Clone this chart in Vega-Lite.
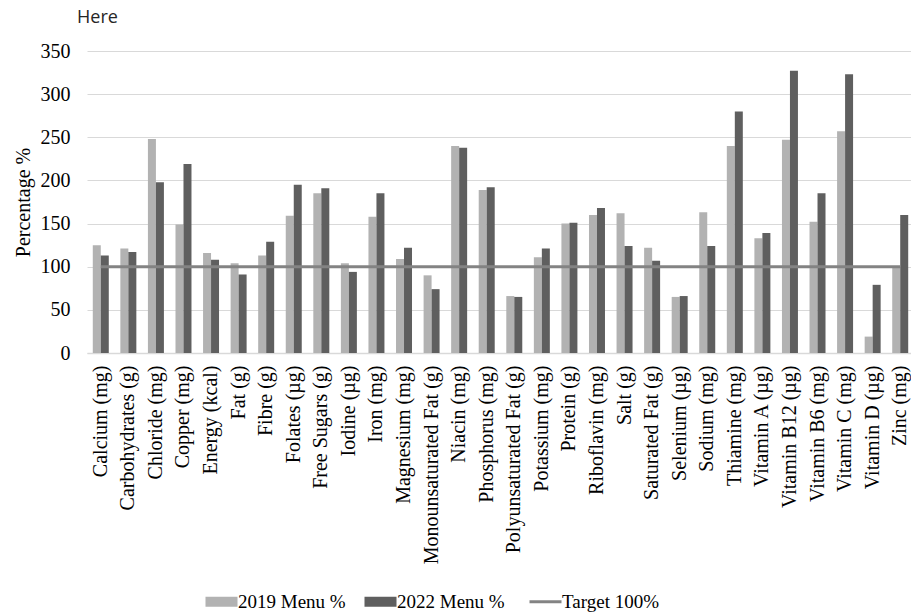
{
  "$schema": "https://vega.github.io/schema/vega-lite/v6.json",
  "autosize": {"type": "none"},
  "width": 827,
  "height": 302,
  "padding": {"left": 87, "top": 51, "right": 0, "bottom": 263},
  "background": "white",
  "title": {"text": "Here", "anchor": "start", "frame": "group", "dx": -10, "offset": 14, "font": "Open Sans", "fontSize": 18, "fontWeight": "normal", "color": "#262626"},
  "config": {
    "view": {"stroke": null},
    "font": "Liberation Serif",
    "axis": {"labelFont": "Liberation Serif", "titleFont": "Liberation Serif", "labelColor": "black", "titleColor": "black", "titleFontWeight": "normal"},
    "axisY": {"labelFont": "Times New Roman", "titleFont": "Times New Roman"},
    "axisQuantitative": {"labelFont": "Times New Roman"},
    "legend": {"labelFont": "Liberation Serif", "labelColor": "black"}
  },
  "data": {"values": [
    {"nutrient": "Calcium (mg)", "series": "2019 Menu %", "value": 125},
    {"nutrient": "Calcium (mg)", "series": "2022 Menu %", "value": 113},
    {"nutrient": "Carbohydrates (g)", "series": "2019 Menu %", "value": 121},
    {"nutrient": "Carbohydrates (g)", "series": "2022 Menu %", "value": 117},
    {"nutrient": "Chloride (mg)", "series": "2019 Menu %", "value": 248},
    {"nutrient": "Chloride (mg)", "series": "2022 Menu %", "value": 198},
    {"nutrient": "Copper (mg)", "series": "2019 Menu %", "value": 149},
    {"nutrient": "Copper (mg)", "series": "2022 Menu %", "value": 219},
    {"nutrient": "Energy (kcal)", "series": "2019 Menu %", "value": 116},
    {"nutrient": "Energy (kcal)", "series": "2022 Menu %", "value": 108},
    {"nutrient": "Fat (g)", "series": "2019 Menu %", "value": 104},
    {"nutrient": "Fat (g)", "series": "2022 Menu %", "value": 91},
    {"nutrient": "Fibre (g)", "series": "2019 Menu %", "value": 113},
    {"nutrient": "Fibre (g)", "series": "2022 Menu %", "value": 129},
    {"nutrient": "Folates (µg)", "series": "2019 Menu %", "value": 159},
    {"nutrient": "Folates (µg)", "series": "2022 Menu %", "value": 195},
    {"nutrient": "Free Sugars (g)", "series": "2019 Menu %", "value": 185},
    {"nutrient": "Free Sugars (g)", "series": "2022 Menu %", "value": 191},
    {"nutrient": "Iodine (µg)", "series": "2019 Menu %", "value": 104},
    {"nutrient": "Iodine (µg)", "series": "2022 Menu %", "value": 94},
    {"nutrient": "Iron (mg)", "series": "2019 Menu %", "value": 158},
    {"nutrient": "Iron (mg)", "series": "2022 Menu %", "value": 185},
    {"nutrient": "Magnesium (mg)", "series": "2019 Menu %", "value": 109},
    {"nutrient": "Magnesium (mg)", "series": "2022 Menu %", "value": 122},
    {"nutrient": "Monounsaturated Fat (g)", "series": "2019 Menu %", "value": 90},
    {"nutrient": "Monounsaturated Fat (g)", "series": "2022 Menu %", "value": 74},
    {"nutrient": "Niacin (mg)", "series": "2019 Menu %", "value": 240},
    {"nutrient": "Niacin (mg)", "series": "2022 Menu %", "value": 238},
    {"nutrient": "Phosphorus (mg)", "series": "2019 Menu %", "value": 189},
    {"nutrient": "Phosphorus (mg)", "series": "2022 Menu %", "value": 192},
    {"nutrient": "Polyunsaturated Fat (g)", "series": "2019 Menu %", "value": 66},
    {"nutrient": "Polyunsaturated Fat (g)", "series": "2022 Menu %", "value": 65},
    {"nutrient": "Potassium (mg)", "series": "2019 Menu %", "value": 111},
    {"nutrient": "Potassium (mg)", "series": "2022 Menu %", "value": 121},
    {"nutrient": "Protein (g)", "series": "2019 Menu %", "value": 150},
    {"nutrient": "Protein (g)", "series": "2022 Menu %", "value": 151},
    {"nutrient": "Riboflavin (mg)", "series": "2019 Menu %", "value": 160},
    {"nutrient": "Riboflavin (mg)", "series": "2022 Menu %", "value": 168},
    {"nutrient": "Salt (g)", "series": "2019 Menu %", "value": 162},
    {"nutrient": "Salt (g)", "series": "2022 Menu %", "value": 124},
    {"nutrient": "Saturated Fat (g)", "series": "2019 Menu %", "value": 122},
    {"nutrient": "Saturated Fat (g)", "series": "2022 Menu %", "value": 107},
    {"nutrient": "Selenium (µg)", "series": "2019 Menu %", "value": 65},
    {"nutrient": "Selenium (µg)", "series": "2022 Menu %", "value": 66},
    {"nutrient": "Sodium (mg)", "series": "2019 Menu %", "value": 163},
    {"nutrient": "Sodium (mg)", "series": "2022 Menu %", "value": 124},
    {"nutrient": "Thiamine (mg)", "series": "2019 Menu %", "value": 240},
    {"nutrient": "Thiamine (mg)", "series": "2022 Menu %", "value": 280},
    {"nutrient": "Vitamin A (µg)", "series": "2019 Menu %", "value": 133},
    {"nutrient": "Vitamin A (µg)", "series": "2022 Menu %", "value": 139},
    {"nutrient": "Vitamin B12 (µg)", "series": "2019 Menu %", "value": 247},
    {"nutrient": "Vitamin B12 (µg)", "series": "2022 Menu %", "value": 327},
    {"nutrient": "Vitamin B6 (mg)", "series": "2019 Menu %", "value": 152},
    {"nutrient": "Vitamin B6 (mg)", "series": "2022 Menu %", "value": 185},
    {"nutrient": "Vitamin C (mg)", "series": "2019 Menu %", "value": 257},
    {"nutrient": "Vitamin C (mg)", "series": "2022 Menu %", "value": 323},
    {"nutrient": "Vitamin D (µg)", "series": "2019 Menu %", "value": 19},
    {"nutrient": "Vitamin D (µg)", "series": "2022 Menu %", "value": 79},
    {"nutrient": "Zinc (mg)", "series": "2019 Menu %", "value": 99},
    {"nutrient": "Zinc (mg)", "series": "2022 Menu %", "value": 160}
  ]},
  "encoding": {
    "x": {"field": "nutrient", "type": "nominal", "sort": null,
      "scale": {"paddingInner": 0.42, "paddingOuter": 0.21},
      "axis": {"title": null, "labelAngle": -90, "labelFont": "Liberation Serif", "labelFontSize": 20, "labelPadding": 12, "labelLimit": 0, "ticks": false, "domainColor": "#d9d9d9", "domainWidth": 1.5, "labelOverlap": false}},
    "y": {"field": "value", "type": "quantitative",
      "scale": {"domain": [0, 350], "nice": false},
      "axis": {"title": "Percentage %", "values": [0, 50, 100, 150, 200, 250, 300, 350], "labelFont": "Times New Roman", "titleFont": "Times New Roman", "labelFontSize": 20, "titleFontSize": 20, "labelPadding": 17, "titlePadding": 7, "ticks": false, "domain": false, "gridColor": "#d9d9d9", "gridWidth": 1.2}}
  },
  "layer": [
    {
      "mark": {"type": "bar"},
      "encoding": {
        "xOffset": {"field": "series", "type": "nominal", "scale": {"paddingInner": 0, "paddingOuter": 0}},
        "color": {"field": "series", "type": "nominal",
          "scale": {"domain": ["2019 Menu %", "2022 Menu %", "Target 100%"], "range": ["#b2b2b2", "#5f5f5f", "#838383"]},
          "legend": {"title": null, "orient": "none", "direction": "horizontal", "legendX": 125, "legendY": 541,
            "labelFont": "Liberation Serif", "labelFontSize": 19, "symbolSize": 1024, "labelOffset": 7, "columnPadding": 18,
            "encode": {"symbols": {"update": {
              "shape": {"signal": "datum.value === 'Target 100%' ? 'stroke' : 'M-1,-0.3125H1V0.3125H-1Z'"},
              "fill": {"signal": "datum.value === 'Target 100%' ? 'transparent' : scale('color', datum.value)"},
              "stroke": {"signal": "scale('color', datum.value)"},
              "strokeWidth": {"signal": "datum.value === 'Target 100%' ? 3 : 0"},
              "opacity": {"value": 1}
            }}}}}
      }
    },
    {
      "transform": [{"filter": "datum.series === '2019 Menu %'"}],
      "mark": {"type": "line", "strokeWidth": 3},
      "encoding": {
        "y": {"datum": 100, "type": "quantitative"},
        "color": {"datum": "Target 100%"}
      }
    }
  ]
}
